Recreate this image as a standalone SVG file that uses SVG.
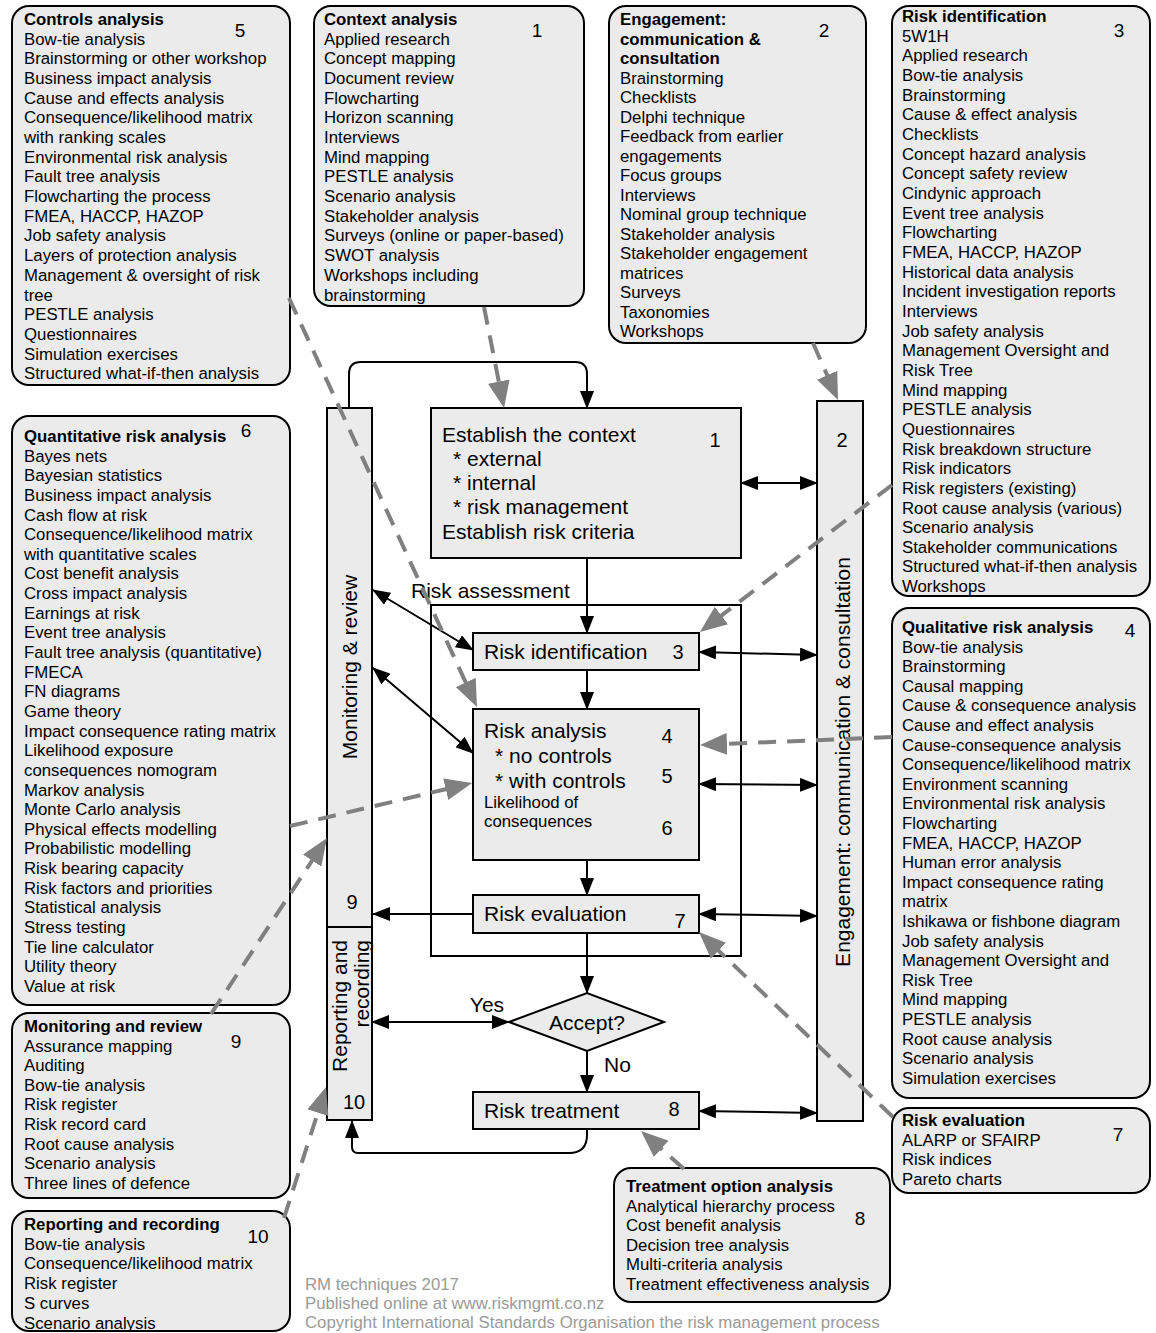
<svg xmlns="http://www.w3.org/2000/svg" width="1156" height="1333" viewBox="0 0 1156 1333">
<defs>
<style>
.box{fill:#ebebeb;stroke:#000;stroke-width:2}
.frame{fill:none;stroke:#000;stroke-width:2}
text{font-family:"Liberation Sans",Arial,sans-serif;fill:#000}
.lt{font-size:16.8px}
.ttl{font-weight:bold}
.num{font-size:19px}
.ft{font-size:21px}
.fn{font-size:20px}
.sm{font-size:16.8px}
.foot{font-size:16.8px;fill:#9a9a9a}
.conn{stroke:#000;stroke-width:2;fill:none}
.dash{stroke:#808080;stroke-width:4;stroke-dasharray:18 11;fill:none}
</style>
<marker id="ah" markerUnits="userSpaceOnUse" markerWidth="18" markerHeight="14" viewBox="0 0 18 14" refX="17" refY="7" orient="auto-start-reverse">
<path d="M0,0 L18,7 L0,14 z" fill="#000"/>
</marker>
<marker id="gh" markerUnits="userSpaceOnUse" markerWidth="27" markerHeight="22" viewBox="0 0 27 22" refX="17" refY="11" orient="auto">
<path d="M0,0 L27,11 L0,22 z" fill="#808080"/>
</marker>
</defs>
<rect width="1156" height="1333" fill="#fff"/>

<g id="box-controls">
<rect class="box" x="12" y="6" width="278" height="379" rx="17"/>
<text class="num" x="240" y="37" text-anchor="middle">5</text>
<text class="lt" x="24" y="25"><tspan class="ttl">Controls analysis</tspan><tspan x="24" dy="19.68">Bow-tie analysis</tspan><tspan x="24" dy="19.68">Brainstorming or other workshop</tspan><tspan x="24" dy="19.68">Business impact analysis</tspan><tspan x="24" dy="19.68">Cause and effects analysis</tspan><tspan x="24" dy="19.68">Consequence/likelihood matrix</tspan><tspan x="24" dy="19.68">with ranking scales</tspan><tspan x="24" dy="19.68">Environmental risk analysis</tspan><tspan x="24" dy="19.68">Fault tree analysis</tspan><tspan x="24" dy="19.68">Flowcharting the process</tspan><tspan x="24" dy="19.68">FMEA, HACCP, HAZOP</tspan><tspan x="24" dy="19.68">Job safety analysis</tspan><tspan x="24" dy="19.68">Layers of protection analysis</tspan><tspan x="24" dy="19.68">Management &amp; oversight of risk</tspan><tspan x="24" dy="19.68">tree</tspan><tspan x="24" dy="19.68">PESTLE analysis</tspan><tspan x="24" dy="19.68">Questionnaires</tspan><tspan x="24" dy="19.68">Simulation exercises</tspan><tspan x="24" dy="19.68">Structured what-if-then analysis</tspan></text>
</g>

<g id="box-context">
<rect class="box" x="314" y="6" width="270" height="300" rx="17"/>
<text class="num" x="537" y="37" text-anchor="middle">1</text>
<text class="lt" x="324" y="25"><tspan class="ttl">Context analysis</tspan><tspan x="324" dy="19.68">Applied research</tspan><tspan x="324" dy="19.68">Concept mapping</tspan><tspan x="324" dy="19.68">Document review</tspan><tspan x="324" dy="19.68">Flowcharting</tspan><tspan x="324" dy="19.68">Horizon scanning</tspan><tspan x="324" dy="19.68">Interviews</tspan><tspan x="324" dy="19.68">Mind mapping</tspan><tspan x="324" dy="19.68">PESTLE analysis</tspan><tspan x="324" dy="19.68">Scenario analysis</tspan><tspan x="324" dy="19.68">Stakeholder analysis</tspan><tspan x="324" dy="19.68">Surveys (online or paper-based)</tspan><tspan x="324" dy="19.68">SWOT analysis</tspan><tspan x="324" dy="19.68">Workshops including</tspan><tspan x="324" dy="19.68">brainstorming</tspan></text>
</g>

<g id="box-engagement">
<rect class="box" x="609" y="6" width="257" height="337" rx="17"/>
<text class="num" x="824" y="37" text-anchor="middle">2</text>
<text class="lt" x="620" y="25"><tspan class="ttl">Engagement:</tspan><tspan class="ttl" x="620" dy="19.5">communication &amp;</tspan><tspan class="ttl" x="620" dy="19.5">consultation</tspan><tspan x="620" dy="19.5">Brainstorming</tspan><tspan x="620" dy="19.5">Checklists</tspan><tspan x="620" dy="19.5">Delphi technique</tspan><tspan x="620" dy="19.5">Feedback from earlier</tspan><tspan x="620" dy="19.5">engagements</tspan><tspan x="620" dy="19.5">Focus groups</tspan><tspan x="620" dy="19.5">Interviews</tspan><tspan x="620" dy="19.5">Nominal group technique</tspan><tspan x="620" dy="19.5">Stakeholder analysis</tspan><tspan x="620" dy="19.5">Stakeholder engagement</tspan><tspan x="620" dy="19.5">matrices</tspan><tspan x="620" dy="19.5">Surveys</tspan><tspan x="620" dy="19.5">Taxonomies</tspan><tspan x="620" dy="19.5">Workshops</tspan></text>
</g>

<g id="box-risk-identification">
<rect class="box" x="892" y="6" width="258" height="590" rx="17"/>
<text class="num" x="1119" y="37" text-anchor="middle">3</text>
<text class="lt" x="902" y="22"><tspan class="ttl">Risk identification</tspan><tspan x="902" dy="19.66">5W1H</tspan><tspan x="902" dy="19.66">Applied research</tspan><tspan x="902" dy="19.66">Bow-tie analysis</tspan><tspan x="902" dy="19.66">Brainstorming</tspan><tspan x="902" dy="19.66">Cause &amp; effect analysis</tspan><tspan x="902" dy="19.66">Checklists</tspan><tspan x="902" dy="19.66">Concept hazard analysis</tspan><tspan x="902" dy="19.66">Concept safety review</tspan><tspan x="902" dy="19.66">Cindynic approach</tspan><tspan x="902" dy="19.66">Event tree analysis</tspan><tspan x="902" dy="19.66">Flowcharting</tspan><tspan x="902" dy="19.66">FMEA, HACCP, HAZOP</tspan><tspan x="902" dy="19.66">Historical data analysis</tspan><tspan x="902" dy="19.66">Incident investigation reports</tspan><tspan x="902" dy="19.66">Interviews</tspan><tspan x="902" dy="19.66">Job safety analysis</tspan><tspan x="902" dy="19.66">Management Oversight and</tspan><tspan x="902" dy="19.66">Risk Tree</tspan><tspan x="902" dy="19.66">Mind mapping</tspan><tspan x="902" dy="19.66">PESTLE analysis</tspan><tspan x="902" dy="19.66">Questionnaires</tspan><tspan x="902" dy="19.66">Risk breakdown structure</tspan><tspan x="902" dy="19.66">Risk indicators</tspan><tspan x="902" dy="19.66">Risk registers (existing)</tspan><tspan x="902" dy="19.66">Root cause analysis (various)</tspan><tspan x="902" dy="19.66">Scenario analysis</tspan><tspan x="902" dy="19.66">Stakeholder communications</tspan><tspan x="902" dy="19.66">Structured what-if-then analysis</tspan><tspan x="902" dy="19.66">Workshops</tspan></text>
</g>

<g id="box-quantitative">
<rect class="box" x="12" y="416" width="278" height="589" rx="17"/>
<text class="num" x="246" y="437" text-anchor="middle">6</text>
<text class="lt" x="24" y="442"><tspan class="ttl">Quantitative risk analysis</tspan><tspan x="24" dy="19.64">Bayes nets</tspan><tspan x="24" dy="19.64">Bayesian statistics</tspan><tspan x="24" dy="19.64">Business impact analysis</tspan><tspan x="24" dy="19.64">Cash flow at risk</tspan><tspan x="24" dy="19.64">Consequence/likelihood matrix</tspan><tspan x="24" dy="19.64">with quantitative scales</tspan><tspan x="24" dy="19.64">Cost benefit analysis</tspan><tspan x="24" dy="19.64">Cross impact analysis</tspan><tspan x="24" dy="19.64">Earnings at risk</tspan><tspan x="24" dy="19.64">Event tree analysis</tspan><tspan x="24" dy="19.64">Fault tree analysis (quantitative)</tspan><tspan x="24" dy="19.64">FMECA</tspan><tspan x="24" dy="19.64">FN diagrams</tspan><tspan x="24" dy="19.64">Game theory</tspan><tspan x="24" dy="19.64">Impact consequence rating matrix</tspan><tspan x="24" dy="19.64">Likelihood exposure</tspan><tspan x="24" dy="19.64">consequences nomogram</tspan><tspan x="24" dy="19.64">Markov analysis</tspan><tspan x="24" dy="19.64">Monte Carlo analysis</tspan><tspan x="24" dy="19.64">Physical effects modelling</tspan><tspan x="24" dy="19.64">Probabilistic modelling</tspan><tspan x="24" dy="19.64">Risk bearing capacity</tspan><tspan x="24" dy="19.64">Risk factors and priorities</tspan><tspan x="24" dy="19.64">Statistical analysis</tspan><tspan x="24" dy="19.64">Stress testing</tspan><tspan x="24" dy="19.64">Tie line calculator</tspan><tspan x="24" dy="19.64">Utility theory</tspan><tspan x="24" dy="19.64">Value at risk</tspan></text>
</g>

<g id="box-qualitative">
<rect class="box" x="892" y="608" width="258" height="490" rx="17"/>
<text class="num" x="1130" y="637" text-anchor="middle">4</text>
<text class="lt" x="902" y="633"><tspan class="ttl">Qualitative risk analysis</tspan><tspan x="902" dy="19.6">Bow-tie analysis</tspan><tspan x="902" dy="19.6">Brainstorming</tspan><tspan x="902" dy="19.6">Causal mapping</tspan><tspan x="902" dy="19.6">Cause &amp; consequence analysis</tspan><tspan x="902" dy="19.6">Cause and effect analysis</tspan><tspan x="902" dy="19.6">Cause-consequence analysis</tspan><tspan x="902" dy="19.6">Consequence/likelihood matrix</tspan><tspan x="902" dy="19.6">Environment scanning</tspan><tspan x="902" dy="19.6">Environmental risk analysis</tspan><tspan x="902" dy="19.6">Flowcharting</tspan><tspan x="902" dy="19.6">FMEA, HACCP, HAZOP</tspan><tspan x="902" dy="19.6">Human error analysis</tspan><tspan x="902" dy="19.6">Impact consequence rating</tspan><tspan x="902" dy="19.6">matrix</tspan><tspan x="902" dy="19.6">Ishikawa or fishbone diagram</tspan><tspan x="902" dy="19.6">Job safety analysis</tspan><tspan x="902" dy="19.6">Management Oversight and</tspan><tspan x="902" dy="19.6">Risk Tree</tspan><tspan x="902" dy="19.6">Mind mapping</tspan><tspan x="902" dy="19.6">PESTLE analysis</tspan><tspan x="902" dy="19.6">Root cause analysis</tspan><tspan x="902" dy="19.6">Scenario analysis</tspan><tspan x="902" dy="19.6">Simulation exercises</tspan></text>
</g>

<g id="box-risk-evaluation">
<rect class="box" x="892" y="1108" width="258" height="85" rx="17"/>
<text class="num" x="1118" y="1141" text-anchor="middle">7</text>
<text class="lt" x="902" y="1126"><tspan class="ttl">Risk evaluation</tspan><tspan x="902" dy="19.67">ALARP or SFAIRP</tspan><tspan x="902" dy="19.67">Risk indices</tspan><tspan x="902" dy="19.67">Pareto charts</tspan></text>
</g>

<g id="box-treatment-option">
<rect class="box" x="614" y="1168" width="276" height="134" rx="17"/>
<text class="num" x="860" y="1225" text-anchor="middle">8</text>
<text class="lt" x="626" y="1192"><tspan class="ttl">Treatment option analysis</tspan><tspan x="626" dy="19.6">Analytical hierarchy process</tspan><tspan x="626" dy="19.6">Cost benefit analysis</tspan><tspan x="626" dy="19.6">Decision tree analysis</tspan><tspan x="626" dy="19.6">Multi-criteria analysis</tspan><tspan x="626" dy="19.6">Treatment effectiveness analysis</tspan></text>
</g>

<g id="box-monitoring">
<rect class="box" x="12" y="1013" width="278" height="185" rx="17"/>
<text class="num" x="236" y="1048" text-anchor="middle">9</text>
<text class="lt" x="24" y="1032"><tspan class="ttl">Monitoring and review</tspan><tspan x="24" dy="19.6">Assurance mapping</tspan><tspan x="24" dy="19.6">Auditing</tspan><tspan x="24" dy="19.6">Bow-tie analysis</tspan><tspan x="24" dy="19.6">Risk register</tspan><tspan x="24" dy="19.6">Risk record card</tspan><tspan x="24" dy="19.6">Root cause analysis</tspan><tspan x="24" dy="19.6">Scenario analysis</tspan><tspan x="24" dy="19.6">Three lines of defence</tspan></text>
</g>

<g id="box-reporting">
<rect class="box" x="12" y="1211" width="278" height="120" rx="17"/>
<text class="num" x="258" y="1243" text-anchor="middle">10</text>
<text class="lt" x="24" y="1230"><tspan class="ttl">Reporting and recording</tspan><tspan x="24" dy="19.7">Bow-tie analysis</tspan><tspan x="24" dy="19.7">Consequence/likelihood matrix</tspan><tspan x="24" dy="19.7">Risk register</tspan><tspan x="24" dy="19.7">S curves</tspan><tspan x="24" dy="19.7">Scenario analysis</tspan></text>
</g>

<g id="frame-risk-assessment">
<rect class="frame" x="431" y="605" width="310" height="351"/>
<text class="ft" x="411" y="598">Risk assessment</text>
</g>

<g id="bar-monitoring">
<rect class="box" x="327" y="408" width="45" height="519"/>
<text class="ft" transform="translate(350,667) rotate(-90)" x="0" y="7" text-anchor="middle">Monitoring &amp; review</text>
<text class="fn" x="352" y="909" text-anchor="middle">9</text>
</g>

<g id="bar-reporting">
<rect class="box" x="327" y="927" width="45" height="193"/>
<text class="ft" transform="translate(351,940) rotate(-90)" text-anchor="end"><tspan x="0" y="-4">Reporting and</tspan><tspan x="0" y="18">recording</tspan></text>
<text class="fn" x="354" y="1109" text-anchor="middle">10</text>
</g>

<g id="bar-engagement">
<rect class="box" x="817" y="401" width="46" height="720"/>
<text class="ft" transform="translate(843,762) rotate(-90)" x="0" y="7" text-anchor="middle">Engagement: communication &amp; consultation</text>
<text class="fn" x="842" y="447" text-anchor="middle">2</text>
</g>

<g id="node-context">
<rect class="box" x="431" y="408" width="310" height="150"/>
<text class="ft" x="442" y="442">Establish the context</text>
<text class="ft" x="453" y="466">* external</text>
<text class="ft" x="453" y="490">* internal</text>
<text class="ft" x="453" y="514">* risk management</text>
<text class="ft" x="442" y="539">Establish risk criteria</text>
<text class="fn" x="715" y="447" text-anchor="middle">1</text>
</g>

<g id="node-identification">
<rect class="box" x="473" y="633" width="226" height="37"/>
<text class="ft" x="484" y="659">Risk identification</text>
<text class="fn" x="678" y="659" text-anchor="middle">3</text>
</g>

<g id="node-analysis">
<rect class="box" x="473" y="709" width="226" height="151"/>
<text class="ft" x="484" y="738">Risk analysis</text>
<text class="ft" x="495" y="763">* no controls</text>
<text class="ft" x="495" y="788">* with controls</text>
<text class="sm" x="484" y="808">Likelihood of</text>
<text class="sm" x="484" y="827">consequences</text>
<text class="fn" x="667" y="743" text-anchor="middle">4</text>
<text class="fn" x="667" y="783" text-anchor="middle">5</text>
<text class="fn" x="667" y="835" text-anchor="middle">6</text>
</g>

<g id="node-evaluation">
<rect class="box" x="473" y="895" width="226" height="38"/>
<text class="ft" x="484" y="921">Risk evaluation</text>
<text class="fn" x="680" y="928" text-anchor="middle">7</text>
</g>

<g id="node-accept">
<polygon class="box" points="509,1022 587,993 664,1022 587,1051"/>
<text class="ft" x="587" y="1030" text-anchor="middle">Accept?</text>
</g>

<g id="node-treatment">
<rect class="box" x="473" y="1092" width="226" height="37"/>
<text class="ft" x="484" y="1118">Risk treatment</text>
<text class="fn" x="674" y="1116" text-anchor="middle">8</text>
</g>

<g id="connectors">
<path class="conn" d="M349,408 V374 Q349,362 361,362 H575 Q587,362 587,374 V408" marker-end="url(#ah)"/>
<path class="conn" d="M587,558 V633" marker-end="url(#ah)"/>
<path class="conn" d="M587,670 V709" marker-end="url(#ah)"/>
<path class="conn" d="M587,860 V895" marker-end="url(#ah)"/>
<path class="conn" d="M587,933 V993" marker-end="url(#ah)"/>
<path class="conn" d="M587,1051 V1092" marker-end="url(#ah)"/>
<path class="conn" d="M587,1129 V1135 Q587,1153 569,1153 H358 Q352,1153 352,1147 V1121" marker-end="url(#ah)"/>
<path class="conn" d="M741,483 L817,483" marker-start="url(#ah)" marker-end="url(#ah)"/>
<path class="conn" d="M699,652 L817,655" marker-start="url(#ah)" marker-end="url(#ah)"/>
<path class="conn" d="M699,784 L817,785" marker-start="url(#ah)" marker-end="url(#ah)"/>
<path class="conn" d="M699,914 L817,916" marker-start="url(#ah)" marker-end="url(#ah)"/>
<path class="conn" d="M699,1111 L817,1113" marker-start="url(#ah)" marker-end="url(#ah)"/>
<path class="conn" d="M373,590 L473,650" marker-start="url(#ah)" marker-end="url(#ah)"/>
<path class="conn" d="M373,668 L473,753" marker-start="url(#ah)" marker-end="url(#ah)"/>
<path class="conn" d="M473,914 H373" marker-end="url(#ah)"/>
<path class="conn" d="M372,1022 H509" marker-start="url(#ah)" marker-end="url(#ah)"/>
<text class="ft" x="487" y="1012" text-anchor="middle">Yes</text>
<text class="ft" x="604" y="1072">No</text>
<path class="dash" d="M484,307 L502.1,398.2" marker-end="url(#gh)"/>
<path class="dash" d="M813,343 L834,390.8" marker-end="url(#gh)"/>
<path class="dash" d="M289,298 L472.8,697.9" marker-end="url(#gh)"/>
<path class="dash" d="M892,485 L707.9,625.9" marker-end="url(#gh)"/>
<path class="dash" d="M892,737 L710,744.6" marker-end="url(#gh)"/>
<path class="dash" d="M290,826 L462.3,785.3" marker-end="url(#gh)"/>
<path class="dash" d="M211,1014 L321.5,846.4" marker-end="url(#gh)"/>
<path class="dash" d="M284,1218 L323,1096.5" marker-end="url(#gh)"/>
<path class="dash" d="M893,1117 L706.2,938.9" marker-end="url(#gh)"/>
<path class="dash" d="M684,1169 L648.5,1137.6" marker-end="url(#gh)"/>
</g>

<g id="footer">
<text class="foot" x="305" y="1290">RM techniques 2017</text>
<text class="foot" x="305" y="1309">Published online at www.riskmgmt.co.nz</text>
<text class="foot" x="305" y="1328">Copyright International Standards Organisation the risk management process</text>
</g>
</svg>
